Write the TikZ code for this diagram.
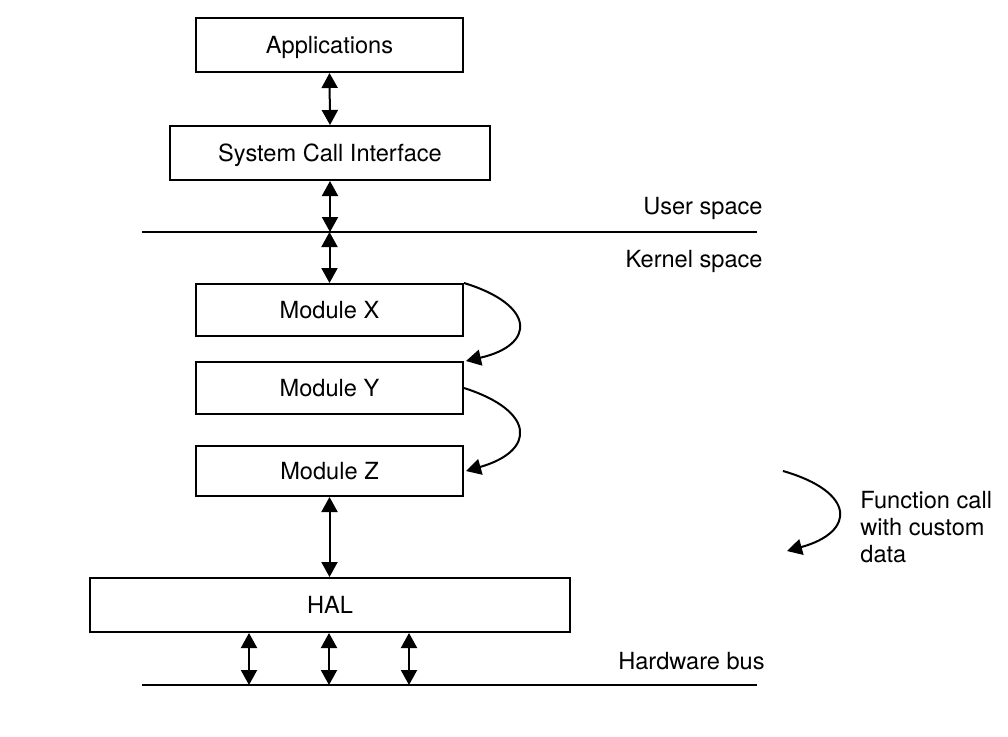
\documentclass[tikz,border=0pt]{standalone}
\usepackage{fontspec}
\setmainfont{TeX Gyre Heros}
\usetikzlibrary{arrows.meta}
\tikzset{blk/.style={draw, line width=1pt, inner sep=0pt, text depth=0pt, font=\fontsize{11.8}{14}\selectfont},
  lbl/.style={anchor=east, inner sep=0pt, font=\fontsize{11.8}{14}\selectfont},
  io/.style={line width=1pt, {Triangle[length=7.5pt,width=8pt]}-{Triangle[length=7.5pt,width=8pt]}},
  call/.style={line width=1pt, -{Triangle[length=7.5pt,width=8pt]}}}
\begin{document}
\begin{tikzpicture}[x=0.5pt,y=-0.5pt]
\useasboundingbox (0,0) rectangle (1008,736);
\node[blk, minimum width=133.5pt, minimum height=27pt] (app) at (329.5,45) {Applications};
\node[blk, minimum width=160pt, minimum height=27pt] (sci) at (330,153) {System Call Interface};
\node[blk, minimum width=133.5pt, minimum height=26pt] (mx) at (329.5,310) {Module X};
\node[blk, minimum width=133.5pt, minimum height=26pt] (my) at (329.5,388) {Module Y};
\node[blk, minimum width=133.5pt, minimum height=25pt] (mz) at (329.5,471) {Module Z};
\node[blk, minimum width=240pt, minimum height=27pt] (hal) at (330,605) {HAL};
% split lines
\coordinate (us1) at (142,232);
\coordinate (us2) at (757,232);
\coordinate (hb1) at (142,685);
\coordinate (hb2) at (570,685);
\coordinate (hb3) at (757,685);
\draw[line width=1pt] (us1) -- (us2);
\draw[line width=1pt] (hb1) -- (hb2);
\draw[line width=0.6pt] (hb2) -- (hb3);
\node[lbl] (usr) at (763,208) {User space};
\node[lbl] (krn) at (763,261) {Kernel space};
\node[lbl] (hwb) at (765,661) {Hardware bus};
% vertical links
\draw[io] (app.south) -- (sci.north);
\draw[io] (sci.south) -- (sci.south |- us1);
\draw[io] (mx.north |- us1) -- (mx.north);
\draw[io] (mz.south) -- (mz.south |- hal.north);
\foreach \x/\n in {249/b1,329/b2,409/b3}{
  \coordinate (\n) at (\x,685);
  \draw[io] (hal.south -| \n) -- (\n);
}
% function calls
\draw[call] (mx.north east) .. controls (536,305) and (536,345) .. ([xshift=1pt]my.north east);
\draw[call] (my.east) .. controls (536,411) and (536,451) .. ([xshift=1pt]mz.east);
\coordinate (f1) at (783,471);
\coordinate (f2) at (787,551);
\draw[call] (f1) .. controls (856,492) and (856,532) .. (f2);
\node[anchor=west, align=left, inner sep=0pt, font=\fontsize{11.8}{13.7}\selectfont] (fc) at (860,527) {Function call\\with custom\\data};
\end{tikzpicture}
\end{document}
